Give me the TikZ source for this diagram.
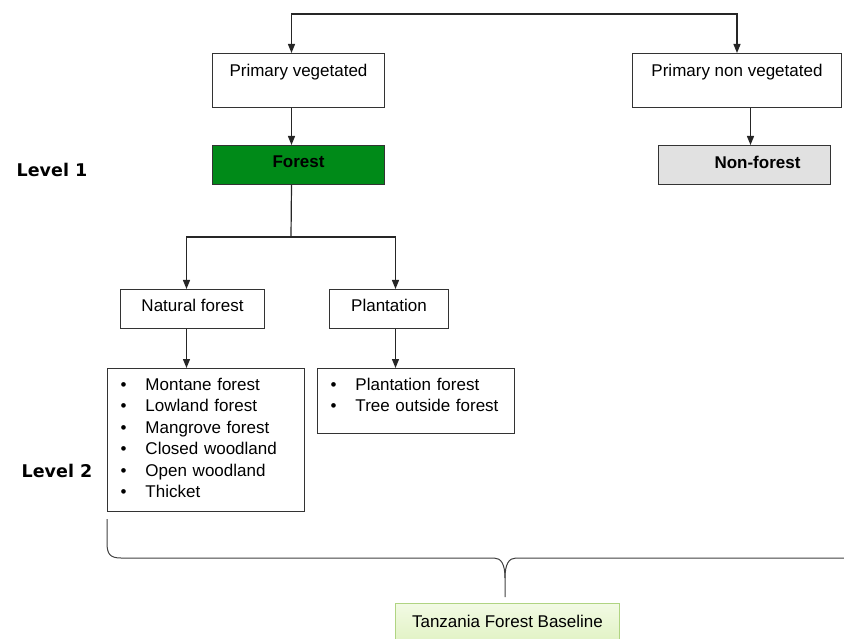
\documentclass[tikz,border=0pt]{standalone}
\usepackage{fontspec}
\setmainfont{Liberation Sans}
\newfontfamily\levelfont{DejaVu Sans}
\usetikzlibrary{arrows.meta}
\definecolor{forestfill}{RGB}{0,138,24}
\definecolor{nonfill}{RGB}{225,225,225}
\definecolor{baseline}{RGB}{176,212,130}
\definecolor{basetop}{RGB}{242,250,228}
\definecolor{basebot}{RGB}{222,241,190}
\begin{document}
\begin{tikzpicture}[x=1pt,y=-1pt,>={Triangle[length=9pt,width=7pt]},
  every node/.append style={font=\fontsize{17pt}{21.4pt}\selectfont},
  box/.style={draw=black!80,line width=1pt,anchor=north west,inner ysep=0pt,inner xsep=0pt},
  listbox/.style={box,align=left,text width=171pt,inner xsep=13pt,text height=22pt},
  lvl/.style={font=\levelfont\bfseries\fontsize{17.5pt}{20pt}\selectfont},
  link/.style={line width=1.2pt,black!85}]
  \useasboundingbox (0,0) rectangle (844,639);
  \node[box,minimum width=172pt,text height=23pt,text depth=31pt] (pv) at (212,53) {Primary vegetated};
  \node[box,minimum width=209pt,text height=23pt,text depth=31pt] (pnv) at (632,53) {Primary non vegetated};
  \node[box,fill=forestfill,minimum width=172pt,text height=22pt,text depth=17pt,font=\fontsize{17pt}{20pt}\selectfont\bfseries] (forest) at (212,145) {Forest};
  \node[box,fill=nonfill,minimum width=172pt,text height=23pt,text depth=16pt,font=\fontsize{17pt}{20pt}\selectfont\bfseries] (nonforest) at (658,145) {\hspace*{26pt}Non-forest};
  \node[lvl] (lvl1) at (52,170) {Level 1};
  \node[box,minimum width=144pt,text height=22pt,text depth=17pt] (natural) at (120,289) {Natural forest};
  \node[box,minimum width=119pt,text height=22pt,text depth=17pt] (plant) at (329,289) {Plantation};
  \node[listbox,text depth=121pt] (natlist) at (107,368) {%
    \makebox[25pt][l]{\textbullet}Montane forest\\
    \makebox[25pt][l]{\textbullet}Lowland forest\\
    \makebox[25pt][l]{\textbullet}Mangrove forest\\
    \makebox[25pt][l]{\textbullet}Closed woodland\\
    \makebox[25pt][l]{\textbullet}Open woodland\\
    \makebox[25pt][l]{\textbullet}Thicket};
  \node[listbox,text depth=43pt] (plantlist) at (317,368) {%
    \makebox[25pt][l]{\textbullet}Plantation forest\\
    \makebox[25pt][l]{\textbullet}Tree outside forest};
  \node[lvl] (lvl2) at (57,471) {Level 2};
  \node[box,draw=baseline,top color=basetop,bottom color=basebot,minimum width=224pt,text height=24pt,text depth=22pt] (base) at (395,603) {Tanzania Forest Baseline};

  % connectors
  \coordinate (top) at (513,14);
  \coordinate (split) at (291,237);
  \draw[link,->] (top) -| ([xshift=-7pt]pv.north);
  \draw[link,->] (top) -| (pnv.north);
  \draw[link,->] ([xshift=-7pt]pv.south) -- ([xshift=-7pt]forest.north);
  \draw[link,->] ([xshift=6pt]nonforest.north |- pnv.south) -- ([xshift=6pt]nonforest.north);
  \draw[link] ([xshift=-7pt]forest.south) -- (split);
  \draw[link,->] (split) -| ([xshift=-6pt]natural.north);
  \draw[link,->] (split) -| ([xshift=6.5pt]plant.north);
  \draw[link,->] ([xshift=-6pt]natural.south) -- ([xshift=-6pt]natural.south |- natlist.north);
  \draw[link,->] ([xshift=6.5pt]plant.south) -- ([xshift=6.5pt]plant.south |- plantlist.north);

  % brace
  \coordinate (tip) at (505,597);
  \draw[line width=1pt,black!75] (107,519) -- (107,543) .. controls (107,554) and (110,558) .. (121,558)
    -- (494,558) .. controls (501,558) and (505,564) .. (505,578) -- (tip);
  \draw[line width=1pt,black!75] (505,578) .. controls (505,564) and (509,558) .. (516,558) -- (844,558);
\end{tikzpicture}
\end{document}
